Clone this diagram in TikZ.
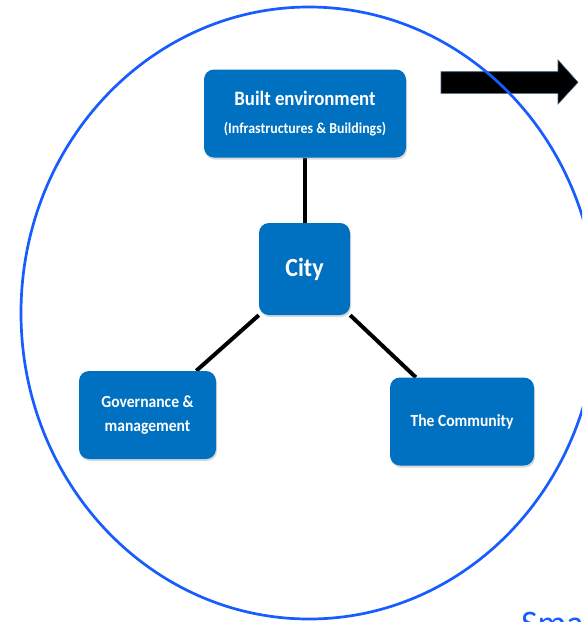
\documentclass[tikz,border=0pt]{standalone}
\usepackage{fontspec}
\usepackage{graphicx}
\setmainfont{Carlito}
\usetikzlibrary{shadows,calc}
\pgfdeclarelayer{background}
\pgfsetlayers{background,main}

\definecolor{boxblue}{RGB}{0,112,192}
\definecolor{ringblue}{RGB}{22,92,255}
\definecolor{arrowedge}{RGB}{58,90,128}

% block lettering is set slightly taller than wide
\newcommand{\tallline}[1]{\scalebox{1}[1.09]{#1}}

\tikzset{
  block/.style={
    fill=boxblue, draw=none, rounded corners=10pt, inner sep=0pt,
    text=white, align=center, font=\bfseries,
    drop shadow={opacity=0.3, shadow xshift=1pt, shadow yshift=-2pt}
  },
  link/.style={line width=4pt, black},
  ring/.style={line width=2.7pt, draw=ringblue},
}

\begin{document}
\begin{tikzpicture}[x=1pt, y=-1pt]
  \useasboundingbox (0,0) rectangle (582,622);
  \clip (0,0) rectangle (582,622);

  % block arrow leading out to the right
  \fill[black, draw=arrowedge, line width=0.6pt]
    (441,71.7) -- (558,71.7) -- (558,60) -- (578,82.3)
    -- (558,104) -- (558,93.3) -- (441,93.3) -- cycle;

  % the city boundary
  \draw[ring] (309,313) ellipse [x radius=288pt, y radius=306pt];

  % the four blocks
  \node[block, minimum width=202pt, minimum height=88pt,
        font=\bfseries\fontsize{13.9}{27.3}\selectfont] (built) at (305,113.5)
    {\tallline{\fontsize{18.8}{27.3}\selectfont Built environment}\\\tallline{(Infrastructures \& Buildings)}};
  \node[block, minimum width=91pt, minimum height=92pt,
        font=\bfseries\fontsize{24}{28}\selectfont] (city) at (304.5,269) {\tallline{City}};
  \node[block, minimum width=137pt, minimum height=88pt,
        font=\bfseries\fontsize{15.6}{23.5}\selectfont] (gov) at (147.5,415)
    {\tallline{Governance \&}\\\tallline{management}};
  \node[block, minimum width=144pt, minimum height=88pt,
        font=\bfseries\fontsize{15.6}{23.5}\selectfont] (com) at (462,421.5)
    {\tallline{The Community}};

  % connectors from the city to each part
  \begin{pgfonlayer}{background}
    \draw[link] (city.north) -- (city.north |- built.south);
    \draw[link] (city.south west) -- ($(gov.north)!0.71!(gov.north east)$);
    \draw[link] (city.south east) -- ($(com.north)!0.64!(com.north west)$);
  \end{pgfonlayer}

  % caption running off the lower edge
  \node[anchor=base west, inner sep=0pt, text=ringblue,
        font=\fontsize{36}{40}\selectfont] (caption) at (521,635) {Smart};
\end{tikzpicture}
\end{document}
